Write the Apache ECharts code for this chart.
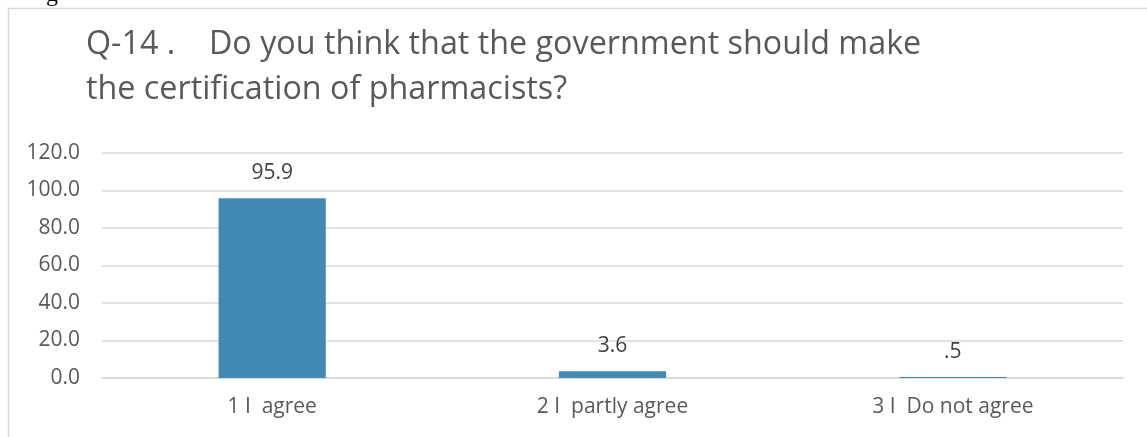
<!DOCTYPE html>
<html><head><meta charset="utf-8">
<script src="https://cdn.jsdelivr.net/npm/echarts@6/dist/echarts.min.js"></script>
<style>html,body{margin:0;padding:0;background:#fff}#c{width:1147px;height:437px}</style>
</head><body><div id="c"></div>
<script>
const titleLines = ["Q-14 .    Do you think that the government should make", "the certification of pharmacists?"];
const categories = ["1 I  agree", "2 I  partly agree", "3 I  Do not agree"];
const values = [95.9, 3.6, 0.5];
const yTicks = { min: 0, max: 120, interval: 20 };

const chart = echarts.init(document.getElementById('c'), null, { renderer: 'canvas' });
const font = '"Open Sans", "Noto Sans", sans-serif';
chart.setOption({
  animation: false,
  backgroundColor: '#fff',
  graphic: [
    { type: 'rect', shape: { x: 8.5, y: 8.5, width: 1200, height: 500 }, style: { fill: 'none', stroke: '#d9d9d9', lineWidth: 1.5 }, silent: true },
    { type: 'text', left: 46, top: -17, style: { text: 'g', font: '24px "Liberation Serif", serif', fill: '#000' } },
    { type: 'text', left: 86, top: 22, style: { text: titleLines.join('\n'), font: '32.3px ' + font, fill: '#595959', lineHeight: 45 } }
  ],
  grid: { left: 102, right: 24, top: 153, bottom: 59, containLabel: false },
  xAxis: {
    type: 'category', data: categories,
    axisLine: { lineStyle: { color: '#d9d9d9', width: 1.5 } },
    axisTick: { show: false },
    axisLabel: { color: '#595959', fontSize: 21, fontFamily: font, margin: 19 }
  },
  yAxis: {
    type: 'value', min: yTicks.min, max: yTicks.max, interval: yTicks.interval,
    axisLine: { show: false }, axisTick: { show: false },
    splitLine: { lineStyle: { color: '#d9d9d9', width: 1.5 } },
    axisLabel: { color: '#595959', fontSize: 21, fontFamily: font, margin: 22, formatter: v => v.toFixed(1) }
  },
  series: [{
    type: 'bar', data: values, barWidth: '31.5%',
    itemStyle: { color: '#408ab5' },
    label: { show: true, position: 'top', distance: 15, color: '#404040', fontSize: 21, fontFamily: font,
      formatter: p => { let s = p.value.toFixed(1); return s.startsWith('0') ? s.slice(1) : s; } }
  }]
});
</script></body></html>
